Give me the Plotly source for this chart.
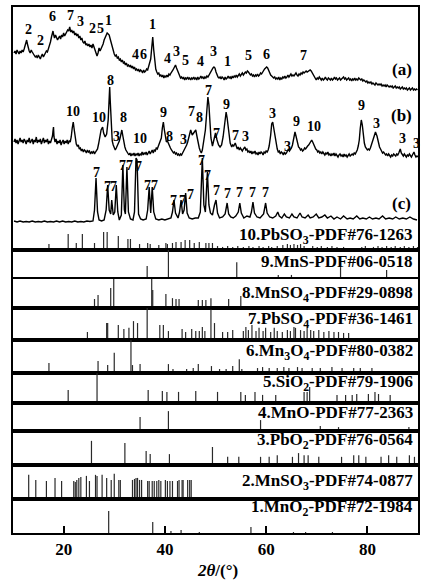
import plotly.graph_objects as go
from plotly.subplots import make_subplots

FONT = "Liberation Serif"

# ---------------- measured patterns: 2theta (deg) and intensity (a.u.) ----------------
a_theta = [10.2, 10.4, 10.6, 10.8, 11.0, 11.2, 11.4, 11.6, 11.8, 12.0, 12.2, 12.4, 12.6, 12.7, 12.8,
           13.0, 13.2, 13.4, 13.6, 13.8, 14.0, 14.2, 14.4, 14.6, 14.8, 15.0, 15.2, 15.4, 15.6, 15.8,
           16.0, 16.2, 16.4, 16.6, 16.8, 17.0, 17.2, 17.4, 17.6, 17.8, 17.9, 18.0, 18.2, 18.4, 18.6,
           18.8, 19.0, 19.2, 19.4, 19.6, 19.8, 20.0, 20.2, 20.4, 20.6, 20.8, 21.0, 21.2, 21.4, 21.6,
           21.8, 22.0, 22.2, 22.4, 22.6, 22.8, 23.0, 23.2, 23.4, 23.6, 23.8, 24.0, 24.2, 24.4, 24.6,
           24.8, 25.0, 25.2, 25.4, 25.6, 25.8, 26.0, 26.2, 26.4, 26.6, 26.8, 27.0, 27.2, 27.4, 27.6,
           27.8, 28.0, 28.2, 28.4, 28.6, 28.8, 29.0, 29.2, 29.4, 29.6, 29.8, 30.0, 30.2, 30.4, 30.6,
           30.8, 31.0, 31.2, 31.4, 31.6, 31.8, 32.0, 32.2, 32.4, 32.6, 32.8, 33.0, 33.2, 33.4, 33.6,
           33.8, 34.0, 34.2, 34.4, 34.6, 34.8, 35.0, 35.2, 35.4, 35.6, 35.8, 36.0, 36.2, 36.4, 36.6,
           36.8, 37.0, 37.2, 37.4, 37.6, 37.8, 38.0, 38.2, 38.4, 38.6, 38.8, 39.0, 39.2, 39.4, 39.6,
           39.8, 40.0, 40.2, 40.4, 40.6, 40.8, 41.0, 41.2, 41.4, 41.6, 41.8, 42.0, 42.1, 42.3, 42.5,
           42.7, 42.9, 43.1, 43.3, 43.5, 43.7, 43.9, 44.1, 44.3, 44.5, 44.7, 44.9, 45.1, 45.3, 45.5,
           45.7, 45.9, 46.1, 46.3, 46.5, 46.7, 46.9, 47.1, 47.3, 47.5, 47.7, 47.9, 48.1, 48.3, 48.5,
           48.7, 48.9, 49.1, 49.3, 49.5, 49.7, 49.9, 50.1, 50.3, 50.5, 50.7, 50.9, 51.1, 51.3, 51.5,
           51.7, 51.9, 52.1, 52.3, 52.5, 52.7, 52.9, 53.1, 53.3, 53.5, 53.7, 53.9, 54.1, 54.3, 54.5,
           54.7, 54.9, 55.1, 55.3, 55.5, 55.7, 55.9, 56.1, 56.3, 56.5, 56.7, 56.9, 57.1, 57.3, 57.5,
           57.7, 57.9, 58.1, 58.3, 58.5, 58.7, 58.9, 59.1, 59.3, 59.5, 59.7, 59.9, 60.1, 60.3, 60.5,
           60.7, 60.9, 61.1, 61.3, 61.5, 61.7, 61.9, 62.1, 62.3, 62.5, 62.7, 62.9, 63.1, 63.3, 63.5,
           63.7, 63.9, 64.1, 64.3, 64.5, 64.7, 64.9, 65.1, 65.3, 65.5, 65.7, 65.9, 66.1, 66.3, 66.5,
           66.7, 66.9, 67.1, 67.3, 67.5, 67.7, 67.9, 68.1, 68.3, 68.5, 68.7, 68.9, 69.1, 69.3, 69.5,
           69.7, 69.9, 70.1, 70.3, 70.5, 70.7, 70.9, 71.1, 71.3, 71.5, 71.7, 71.9, 72.1, 72.3, 72.5,
           72.7, 72.9, 73.1, 73.3, 73.5, 73.7, 73.9, 74.1, 74.3, 74.5, 74.7, 74.9, 75.1, 75.3, 75.5,
           75.7, 75.9, 76.1, 76.3, 76.5, 76.7, 76.9, 77.1, 77.3, 77.5, 77.7, 77.9, 78.1, 78.3, 78.5,
           78.7, 78.9, 79.1, 79.3, 79.5, 79.7, 79.9, 80.1, 80.3, 80.5, 80.7, 80.9, 81.1, 81.3, 81.5,
           81.7, 81.9, 82.1, 82.3, 82.5, 82.7, 82.9, 83.1, 83.3, 83.5, 83.7, 83.9, 84.1, 84.3, 84.5,
           84.7, 84.9, 85.1, 85.3, 85.5, 85.7, 85.9, 86.1, 86.3, 86.5, 86.7, 86.9, 87.1, 87.3, 87.5,
           87.7, 87.9, 88.1, 88.3, 88.5, 88.7, 88.9, 89.1, 89.3, 89.5, 89.7, 89.9]
a_int = [37, 39, 36, 40, 38, 36, 39, 37, 40, 38, 41, 44, 48, 50, 47,
         42, 39, 37, 40, 38, 36, 35, 33, 34, 32, 35, 33, 31, 34, 36,
         33, 35, 37, 39, 38, 41, 44, 48, 53, 57, 59, 56, 52, 55, 53,
         50, 52, 54, 51, 55, 53, 57, 54, 56, 58, 60, 59, 63, 58, 60,
         57, 59, 55, 57, 54, 56, 52, 54, 50, 52, 48, 47, 49, 45, 46,
         44, 46, 43, 45, 42, 46, 43, 40, 38, 34, 37, 42, 39, 41, 44,
         46, 50, 53, 56, 57, 56, 55, 51, 47, 42, 38, 36, 34, 35, 32,
         33, 30, 31, 28, 30, 27, 28, 25, 27, 24, 25, 23, 25, 22, 24,
         21, 23, 20, 21, 19, 21, 18, 20, 19, 17, 20, 18, 19, 21, 20,
         23, 26, 31, 42, 53, 40, 27, 21, 18, 16, 17, 14, 15, 13, 15,
         12, 14, 13, 15, 13, 16, 15, 17, 18, 20, 22, 24, 25, 22, 19,
         16, 14, 12, 13, 11, 13, 10, 12, 11, 13, 11, 12, 10, 12, 11,
         13, 11, 12, 10, 13, 11, 12, 14, 12, 13, 11, 13, 12, 14, 13,
         15, 17, 19, 21, 22, 23, 22, 18, 15, 13, 12, 13, 11, 13, 12,
         10, 13, 11, 12, 14, 12, 13, 11, 14, 12, 14, 13, 15, 13, 14,
         16, 14, 15, 17, 15, 16, 18, 17, 19, 18, 17, 15, 16, 14, 15,
         13, 15, 14, 16, 14, 15, 17, 16, 18, 19, 21, 22, 23, 22, 19,
         17, 15, 14, 13, 12, 13, 11, 12, 11, 13, 10, 12, 11, 13, 12,
         14, 12, 13, 15, 13, 14, 16, 14, 15, 14, 16, 17, 15, 14, 16,
         15, 17, 16, 18, 17, 18, 19, 18, 19, 20, 20, 19, 17, 15, 13,
         12, 10, 12, 11, 13, 11, 10, 12, 10, 11, 13, 11, 10, 12, 11,
         10, 12, 10, 11, 13, 11, 12, 10, 11, 12, 10, 11, 12, 13, 11,
         12, 10, 11, 12, 10, 11, 9, 11, 10, 12, 10, 11, 10, 12, 11,
         10, 11, 9, 10, 9, 8, 9, 7, 8, 7, 8, 6, 7, 6, 5,
         7, 6, 5, 6, 5, 6, 4, 5, 4, 5, 3, 5, 4, 3, 4,
         3, 4, 2, 3, 4, 2, 3, 2, 3, 1, 2, 3, 1, 2, 1,
         2, 0, 1, 2, 0, 1, 2, 0, 1, 0, 1, 0]

b_theta = [10.2, 10.4, 10.6, 10.8, 11.0, 11.2, 11.4, 11.6, 11.8, 12.0, 12.2, 12.4, 12.6, 12.8, 13.0,
           13.2, 13.4, 13.6, 13.8, 14.0, 14.2, 14.4, 14.6, 14.8, 15.0, 15.2, 15.4, 15.6, 15.8, 16.0,
           16.2, 16.4, 16.6, 16.8, 17.0, 17.2, 17.4, 17.6, 17.8, 17.9, 18.0, 18.1, 18.3, 18.5, 18.7,
           18.9, 19.1, 19.3, 19.5, 19.7, 19.9, 20.1, 20.3, 20.5, 20.7, 20.9, 21.1, 21.3, 21.5, 21.7,
           21.9, 22.1, 22.3, 22.5, 22.7, 22.9, 23.1, 23.3, 23.5, 23.7, 23.9, 24.1, 24.3, 24.5, 24.7,
           24.9, 25.1, 25.3, 25.5, 25.7, 25.9, 26.1, 26.3, 26.5, 26.7, 26.9, 27.1, 27.4, 27.7, 27.9,
           28.2, 28.5, 28.8, 29.0, 29.1, 29.2, 29.4, 29.6, 29.8, 30.0, 30.2, 30.4, 30.6, 30.8, 31.0,
           31.2, 31.5, 31.7, 31.9, 32.1, 32.3, 32.5, 32.7, 32.9, 33.1, 33.3, 33.5, 33.7, 33.9, 34.1,
           34.3, 34.5, 34.7, 34.9, 35.1, 35.3, 35.5, 35.7, 35.9, 36.1, 36.3, 36.5, 36.7, 36.9, 37.1,
           37.3, 37.5, 37.7, 37.9, 38.1, 38.3, 38.5, 38.7, 38.9, 39.1, 39.3, 39.5, 39.7, 39.9, 40.1,
           40.3, 40.5, 40.7, 40.9, 41.1, 41.3, 41.5, 41.7, 41.9, 42.1, 42.3, 42.5, 42.7, 42.9, 43.1,
           43.3, 43.5, 43.7, 43.9, 44.1, 44.3, 44.5, 44.7, 44.9, 45.1, 45.4, 45.8, 46.1, 46.4, 46.6,
           46.8, 47.0, 47.2, 47.4, 47.7, 48.0, 48.3, 48.5, 48.7, 48.9, 49.1, 49.4, 49.7, 50.0, 50.3,
           50.6, 50.9, 51.2, 51.5, 51.8, 52.0, 52.1, 52.3, 52.6, 52.9, 53.2, 53.4, 53.6, 53.9, 54.1,
           54.3, 54.5, 54.7, 54.9, 55.1, 55.3, 55.5, 55.8, 56.0, 56.2, 56.4, 56.6, 56.8, 57.0, 57.2,
           57.4, 57.6, 57.8, 58.0, 58.2, 58.4, 58.6, 58.8, 59.0, 59.2, 59.4, 59.6, 59.8, 60.0, 60.2,
           60.4, 60.6, 60.9, 61.1, 61.3, 61.5, 61.8, 62.0, 62.2, 62.4, 62.6, 62.8, 63.0, 63.2, 63.4,
           63.6, 63.8, 64.0, 64.2, 64.4, 64.6, 64.8, 65.0, 65.2, 65.5, 65.7, 65.9, 66.2, 66.4, 66.6,
           66.8, 67.0, 67.2, 67.4, 67.6, 67.8, 68.0, 68.2, 68.4, 68.6, 68.8, 69.0, 69.2, 69.4, 69.6,
           69.8, 70.0, 70.2, 70.4, 70.6, 70.8, 71.0, 71.2, 71.4, 71.6, 71.8, 72.0, 72.2, 72.4, 72.6,
           72.8, 73.0, 73.2, 73.4, 73.6, 73.8, 74.0, 74.2, 74.4, 74.6, 74.8, 75.0, 75.2, 75.4, 75.6,
           75.8, 76.0, 76.2, 76.4, 76.6, 76.8, 77.0, 77.2, 77.4, 77.6, 77.8, 78.0, 78.2, 78.4, 78.6,
           78.8, 79.0, 79.2, 79.4, 79.6, 79.8, 80.0, 80.2, 80.4, 80.6, 80.8, 81.0, 81.2, 81.4, 81.6,
           81.9, 82.2, 82.4, 82.6, 82.8, 83.0, 83.2, 83.4, 83.6, 83.8, 84.0, 84.2, 84.4, 84.6, 84.8,
           85.0, 85.2, 85.4, 85.6, 85.8, 86.0, 86.2, 86.4, 86.5, 86.7, 86.9, 87.1, 87.3, 87.5, 87.7,
           87.9, 88.1, 88.3, 88.5, 88.7, 88.9, 89.1, 89.2, 89.4, 89.6, 89.8, 90.0]
b_int = [16, 19, 15, 18, 14, 17, 20, 16, 18, 15, 19, 17, 14, 18, 16,
         20, 15, 17, 19, 14, 18, 16, 21, 15, 18, 16, 19, 14, 17, 20,
         15, 18, 16, 19, 14, 17, 15, 19, 22, 27, 31, 21, 16, 19, 14,
         17, 15, 18, 13, 16, 18, 14, 17, 15, 18, 14, 17, 16, 21, 30,
         36, 28, 20, 14, 12, 13, 9, 10, 7, 9, 6, 8, 7, 5, 8,
         6, 7, 4, 6, 5, 7, 4, 6, 8, 9, 14, 20, 28, 31, 25,
         21, 24, 38, 63, 71, 58, 28, 17, 13, 11, 8, 10, 12, 15, 17,
         21, 28, 22, 15, 11, 8, 6, 5, 3, 5, 2, 4, 3, 5, 2,
         4, 3, 5, 2, 4, 3, 6, 3, 5, 4, 6, 3, 5, 7, 4,
         6, 8, 5, 8, 7, 10, 9, 12, 13, 16, 20, 30, 36, 28, 20,
         16, 17, 14, 13, 10, 8, 7, 5, 6, 4, 5, 3, 4, 2, 4,
         3, 5, 7, 9, 10, 13, 16, 20, 25, 28, 23, 26, 28, 20, 14,
         10, 7, 5, 8, 16, 28, 48, 61, 53, 33, 20, 12, 18, 25, 18,
         13, 11, 13, 21, 33, 44, 46, 40, 25, 15, 11, 13, 12, 15, 12,
         9, 11, 8, 10, 9, 7, 9, 11, 8, 9, 6, 7, 5, 7, 4,
         6, 5, 7, 4, 5, 3, 6, 4, 6, 5, 3, 6, 5, 7, 6,
         8, 12, 23, 34, 36, 30, 18, 12, 9, 6, 7, 4, 6, 5, 3,
         6, 4, 5, 8, 9, 7, 8, 10, 13, 21, 26, 22, 15, 11, 10,
         8, 9, 7, 8, 10, 9, 11, 12, 13, 15, 16, 18, 16, 13, 10,
         9, 8, 6, 7, 5, 6, 4, 6, 5, 3, 5, 4, 6, 3, 4,
         2, 4, 3, 5, 2, 4, 3, 1, 3, 4, 2, 3, 1, 4, 2,
         3, 1, 3, 4, 2, 3, 4, 3, 5, 4, 6, 8, 12, 18, 30,
         38, 33, 22, 15, 11, 9, 8, 9, 8, 10, 13, 16, 20, 24, 26,
         22, 14, 11, 9, 7, 5, 6, 4, 3, 4, 2, 4, 3, 1, 3,
         2, 4, 3, 2, 4, 3, 5, 8, 9, 5, 3, 2, 4, 2, 1,
         3, 2, 4, 2, 1, 3, 5, 6, 3, 1, 2, 1]

c_theta = [10.2, 10.8, 11.4, 12.0, 12.6, 13.2, 13.8, 14.4, 15.0, 15.6, 16.2, 16.8, 17.4, 18.0, 18.6,
           19.2, 19.8, 20.4, 21.0, 21.6, 22.2, 22.8, 23.4, 24.0, 24.6, 25.2, 25.8, 26.1, 26.4, 26.7,
           27.0, 27.5, 28.0, 28.4, 28.7, 29.0, 29.3, 29.5, 29.8, 30.1, 30.4, 30.7, 31.0, 31.4, 31.7,
           32.0, 32.2, 32.5, 32.8, 33.2, 33.7, 34.0, 34.3, 34.5, 34.8, 35.2, 35.7, 36.3, 36.6, 36.9,
           37.2, 37.5, 37.8, 38.2, 38.8, 39.4, 40.0, 40.6, 41.2, 41.5, 41.8, 42.1, 42.6, 42.9, 43.2,
           43.5, 43.8, 44.1, 44.4, 44.8, 45.4, 46.0, 46.6, 47.0, 47.4, 47.7, 48.0, 48.4, 48.7, 49.0,
           49.4, 49.8, 50.1, 50.4, 50.8, 51.4, 51.9, 52.3, 52.6, 53.0, 53.5, 54.0, 54.5, 54.8, 55.1,
           55.6, 56.2, 56.8, 57.1, 57.4, 57.7, 58.2, 58.8, 59.5, 59.9, 60.2, 60.7, 61.3, 61.9, 62.3,
           62.6, 63.1, 63.6, 64.0, 64.6, 65.1, 65.5, 66.1, 66.7, 67.1, 67.7, 68.3, 68.7, 69.3, 69.9,
           70.4, 71.0, 71.6, 72.1, 72.8, 73.4, 74.0, 74.7, 75.3, 76.0, 76.6, 77.2, 77.9, 78.5, 79.1,
           79.8, 80.4, 81.0, 81.7, 82.3, 83.0, 83.6, 84.3, 85.0, 85.6, 86.3, 87.0, 87.7, 88.4, 89.1,
           89.8]
c_int = [1, 0, 1, 0, 0.5, 0, 1, 0, 0.5, 0, 1, 0, 0.5, 0, 1,
         0, 1, 0, 0.5, 0, 1, 0, 0.5, 0, 1, 0.5, 1, 12, 44, 10,
         2, 1, 2, 12, 37, 12, 8, 22, 7, 10, 37, 10, 2, 7, 57,
         12, 8, 55, 10, 3, 2, 10, 64, 62, 8, 3, 2, 3, 12, 35,
         9, 35, 10, 3, 2, 3, 2, 3, 4, 10, 22, 9, 4, 10, 22,
         8, 12, 29, 9, 4, 3, 4, 4, 10, 64, 17, 10, 50, 17, 9,
         7, 17, 22, 9, 4, 5, 8, 19, 8, 5, 4, 6, 10, 19, 9,
         4, 6, 5, 10, 20, 9, 5, 4, 8, 19, 9, 5, 4, 6, 10,
         6, 4, 8, 5, 4, 8, 5, 4, 9, 5, 4, 7, 4, 5, 8,
         4, 5, 7, 4, 6, 3, 5, 3, 6, 3, 4, 3, 6, 3, 4,
         3, 5, 3, 4, 3, 6, 3, 4, 3, 5, 3, 4, 3, 5, 3,
         2]

# ---------------- reference cards: 2theta (deg) and relative intensity (%) ----------------
pbso3_theta = [17.1, 20.9, 22.5, 23.7, 26.1, 27.9, 28.6, 30.8, 32.7, 33.2, 35.0, 36.6, 37.1, 38.8,
               40.2, 40.5, 41.5, 42.2, 43.2, 44.0, 44.9, 45.8, 46.8, 48.1, 48.7, 49.4, 50.4, 51.4,
               52.4, 53.4, 54.4, 55.5, 56.6, 57.4, 58.6, 59.4, 60.5, 61.1, 62.2, 63.3, 64.2, 64.8,
               65.5, 66.2, 66.8, 67.5, 69.2, 70.1, 70.9, 72.1, 73.0, 74.0, 75.3, 78.9, 79.6, 81.2,
               82.1, 82.9, 83.8, 84.7, 85.5, 86.5, 87.3, 88.2, 89.1, 89.9]
pbso3_int = [33, 89, 39, 89, 39, 100, 100, 78, 61, 61, 33, 39, 33, 28,
             39, 33, 39, 44, 44, 56, 56, 39, 44, 39, 39, 39, 22, 17,
             22, 17, 22, 17, 22, 17, 22, 17, 22, 17, 22, 28, 33, 28,
             33, 28, 33, 22, 22, 17, 22, 17, 22, 17, 17, 17, 22, 17,
             22, 17, 22, 17, 22, 17, 22, 17, 22, 17]

mns_theta = [36.5, 40.7, 54.2, 62.4, 65.0, 74.7, 83.8]
mns_int = [45, 100, 58, 14, 14, 41, 31]

mnso4_theta = [26.1, 26.8, 29.3, 29.9, 37.4, 37.6, 40.2, 41.5, 42.2, 42.8, 46.6, 47.4, 48.1,
               49.1, 52.6, 55.0]
mnso4_int = [31, 45, 69, 100, 100, 62, 48, 34, 31, 31, 28, 28, 28, 34, 31, 41]

pbso4_theta = [24.7, 28.5, 28.7, 30.8, 31.9, 32.9, 33.8, 34.6, 36.5, 39.0, 39.7, 40.7, 43.4, 44.1,
               45.3, 46.1, 46.8, 47.4, 47.9, 49.1, 49.8, 51.4, 52.4, 53.4, 55.5, 56.0, 56.5, 57.2,
               58.0, 58.6, 59.4, 59.9, 60.9, 61.6, 62.2, 63.2, 64.2, 64.8, 65.5, 65.8, 66.8, 67.5,
               68.1, 68.8, 69.4, 70.4, 71.4, 72.4, 73.4, 74.3, 75.3, 76.3]
pbso4_int = [25, 53, 53, 47, 34, 38, 59, 53, 100, 47, 47, 28, 34, 25,
             34, 28, 28, 41, 28, 95, 53, 25, 25, 31, 28, 41, 31, 47,
             28, 38, 28, 38, 25, 38, 28, 25, 31, 28, 41, 38, 31, 28,
             38, 31, 28, 31, 25, 28, 25, 25, 22, 22]

mn3o4_theta = [17.1, 26.8, 28.7, 30.0, 33.3, 33.6, 35.1, 40.7, 41.6, 44.3, 45.6, 46.6, 49.2, 50.8,
               52.1, 53.4, 54.7, 55.2, 58.3, 59.3, 60.6, 62.2, 63.5, 64.5, 66.2, 67.1, 69.1, 70.7,
               73.0, 75.0, 77.3, 78.6, 80.9]
mn3o4_int = [30, 36, 24, 61, 100, 24, 27, 27, 12, 12, 15, 27, 21, 12,
             12, 21, 42, 12, 15, 18, 15, 15, 18, 15, 18, 15, 15, 15,
             18, 15, 15, 15, 15]

sio2_theta = [20.9, 26.6, 36.7, 39.5, 40.4, 42.7, 46.1, 50.4, 55.0, 55.9, 57.8, 59.3, 61.9, 67.5,
              68.1, 68.6, 74.0, 75.7, 77.0, 77.9, 80.2, 81.5, 82.2, 84.5]
sio2_int = [43, 100, 43, 40, 37, 37, 40, 37, 37, 27, 37, 27, 27, 37,
            37, 53, 27, 27, 27, 30, 30, 37, 30, 27]

mno_theta = [35.1, 40.7, 58.9, 70.7, 74.3, 88.2]
mno_int = [50, 71, 39, 18, 14, 14]

pbo2_theta = [25.5, 32.1, 36.3, 37.1, 40.9, 49.4, 52.4, 54.6, 58.9, 60.6, 62.2, 65.2, 66.4, 67.5,
              68.3, 70.4, 74.9, 77.3, 78.3, 79.7, 82.7, 84.2, 85.8, 88.3, 89.3]
pbo2_int = [71, 65, 41, 32, 32, 53, 24, 24, 24, 24, 29, 24, 35, 29,
            29, 24, 24, 29, 29, 24, 24, 29, 24, 29, 24]

mnso3_theta = [13.1, 14.5, 16.6, 18.3, 19.6, 22.0, 22.3, 22.6, 23.0, 23.4, 24.5, 25.1, 26.3, 26.6,
               27.6, 28.5, 29.4, 30.0, 30.9, 31.2, 33.6, 34.0, 34.3, 34.6, 35.0, 35.4, 36.6, 36.9,
               37.5, 37.9, 38.4, 38.8, 39.2, 40.1, 40.5, 41.0, 41.5, 42.5, 42.8, 43.4, 43.6, 44.5,
               44.9, 45.2]
mnso3_int = [71, 56, 53, 62, 53, 53, 50, 56, 62, 65, 68, 53, 71, 68,
             71, 62, 56, 74, 56, 56, 56, 59, 62, 62, 56, 56, 53, 53,
             53, 53, 53, 56, 53, 56, 53, 53, 53, 53, 56, 56, 56, 56,
             56, 56]

mno2_theta = [28.9, 37.6, 41.2, 43.2, 46.8, 57.0, 65.4, 67.8, 73.1]
mno2_int = [65, 32, 6, 9, 3, 18, 3, 3, 3]

card_labels = [
    "10.PbSO<sub>3</sub>-PDF#76-1263",
    "9.MnS-PDF#06-0518",
    "8.MnSO<sub>4</sub>-PDF#29-0898",
    "7.PbSO<sub>4</sub>-PDF#36-1461",
    "6.Mn<sub>3</sub>O<sub>4</sub>-PDF#80-0382",
    "5.SiO<sub>2</sub>-PDF#79-1906",
    "4.MnO-PDF#77-2363",
    "3.PbO<sub>2</sub>-PDF#76-0564",
    "2.MnSO<sub>3</sub>-PDF#74-0877",
    "1.MnO<sub>2</sub>-PDF#72-1984",
]
x_ticks = [20, 40, 60, 80]

# ---------------- layout of the stacked panels ----------------
W, H = 422, 583
ML, MR, MT, MB = 13, 2, 7, 50
row_px = [243, 29, 29, 32, 33, 30, 28, 34, 34, 34]
TOP_RANGE = 243
OFF_A, OFF_B, OFF_C = 160, 92, 28
PBSO3_SCALE = 0.18

fig = make_subplots(rows=len(row_px), cols=1, shared_xaxes=True,
                    vertical_spacing=0, row_heights=row_px)

line_style = dict(color="black", width=1.4)
for th, it, off in [(a_theta, a_int, OFF_A), (b_theta, b_int, OFF_B), (c_theta, c_int, OFF_C)]:
    fig.add_trace(go.Scatter(x=th, y=[v + off for v in it], mode="lines",
                             line=line_style, hoverinfo="skip"), row=1, col=1)


def sticks(theta, inten, scale=1.0):
    xs, ys = [], []
    for t, v in zip(theta, inten):
        xs += [t, t, None]
        ys += [0, v * scale, None]
    return xs, ys


stick_style = dict(color="#2a2a2a", width=1.2)
xs, ys = sticks(pbso3_theta, pbso3_int, PBSO3_SCALE)
fig.add_trace(go.Scatter(x=xs, y=ys, mode="lines", line=stick_style, hoverinfo="skip"), row=1, col=1)

cards = [(mns_theta, mns_int), (mnso4_theta, mnso4_int), (pbso4_theta, pbso4_int),
         (mn3o4_theta, mn3o4_int), (sio2_theta, sio2_int), (mno_theta, mno_int),
         (pbo2_theta, pbo2_int), (mnso3_theta, mnso3_int), (mno2_theta, mno2_int)]
for r, (th, it) in enumerate(cards, start=2):
    xs, ys = sticks(th, it)
    fig.add_trace(go.Scatter(x=xs, y=ys, mode="lines", line=stick_style, hoverinfo="skip"),
                  row=r, col=1)

axis_common = dict(showline=True, mirror=True, linewidth=2, linecolor="black",
                   showgrid=False, zeroline=False)
for r in range(1, len(row_px) + 1):
    fig.update_xaxes(range=[10, 90], ticks="", showticklabels=False, **axis_common, row=r, col=1)
    fig.update_yaxes(range=[0, TOP_RANGE if r == 1 else 100], ticks="", showticklabels=False,
                     fixedrange=True, **axis_common, row=r, col=1)
fig.update_xaxes(ticks="inside", ticklen=7, tickwidth=2, tickcolor="black",
                 tickvals=x_ticks, showticklabels=True,
                 tickfont=dict(family=FONT, size=17, color="black", weight="bold"),
                 row=len(row_px), col=1)

# ---------------- peak assignment labels ----------------
peak_font = dict(family=FONT, size=14, color="black", weight="bold")
labels_a = [("2", 13.0, 220.7), ("2", 15.4, 210), ("6", 17.9, 234), ("7", 21.3, 235),
            ("3", 23.3, 228.3), ("2", 25.7, 221.7), ("5", 27.2, 221.7), ("1", 28.9, 229.3),
            ("4", 34.2, 196), ("6", 35.7, 196), ("1", 37.6, 226), ("4", 40.5, 191.7),
            ("3", 42.2, 198.3), ("5", 44.1, 189.3), ("4", 47.1, 188.3), ("3", 49.6, 198.3),
            ("1", 52.4, 188.3), ("5", 56.6, 195), ("6", 60.1, 196), ("7", 67.3, 195)]
labels_b = [("8", 29.3, 170), ("10", 21.9, 138.3), ("10", 27.0, 132.7), ("8", 31.8, 132.7),
            ("3", 30.4, 113.3), ("10", 35.0, 111.7), ("9", 39.7, 137.3), ("8", 41.0, 113.3),
            ("3", 43.7, 110.7), ("7", 45.3, 138.3), ("8", 46.8, 132.7), ("7", 48.7, 159.3),
            ("7", 50.1, 116.7), ("9", 52.2, 146), ("7", 53.9, 115), ("3", 55.9, 113.3),
            ("3", 61.2, 136.7), ("3", 64.2, 103.3), ("9", 66.0, 128.3), ("10", 69.4, 123.3),
            ("9", 78.9, 145), ("3", 81.9, 126.7), ("3", 86.9, 111.7), ("3", 89.7, 106.7)]
labels_c = [("7", 26.4, 78), ("7", 28.6, 64), ("7", 29.9, 64), ("7", 31.6, 85), ("7", 33.1, 85),
            ("7", 34.7, 84), ("7", 36.5, 65), ("7", 38.0, 65), ("7", 41.8, 50), ("7", 43.4, 50),
            ("7", 45.0, 56), ("7", 47.3, 90), ("7", 48.4, 75), ("7", 50.1, 60), ("7", 52.3, 57),
            ("7", 54.8, 58), ("7", 57.4, 58), ("7", 59.9, 58)]
for txt, x, y in labels_a + labels_b + labels_c:
    fig.add_annotation(x=x, y=y, xref="x", yref="y", text=txt, showarrow=False,
                       font=peak_font, xanchor="center", yanchor="middle")

tag_font = dict(family=FONT, size=17, color="black", weight="bold")
for txt, y in [("(a)", 181), ("(b)", 135), ("(c)", 47)]:
    fig.add_annotation(x=86.8, y=y, xref="x", yref="y", text=txt, showarrow=False,
                       font=tag_font, xanchor="center", yanchor="middle")

# card names, right aligned inside each strip
plot_h = H - MT - MB
card_text_px = [236, 261.7, 294, 320, 351.7, 383.3, 412.5, 441, 481.7, 507.5]
for txt, py in zip(card_labels, card_text_px):
    fig.add_annotation(x=1, xref="paper", xanchor="right", xshift=-3,
                       y=(H - MB - py) / plot_h, yref="paper", yanchor="middle",
                       text=txt, showarrow=False, font=tag_font)

fig.add_annotation(x=(219 - ML) / (W - ML - MR), xref="paper", xanchor="center",
                   y=(H - MB - 582) / plot_h, yref="paper", yanchor="bottom",
                   text="<b><i>2θ</i>/(°)</b>", showarrow=False,
                   font=dict(family=FONT, size=17, color="black"))

fig.update_layout(width=W, height=H, margin=dict(l=ML, r=MR, t=MT, b=MB),
                  paper_bgcolor="white", plot_bgcolor="white", showlegend=False)

fig.write_html("out.html")
